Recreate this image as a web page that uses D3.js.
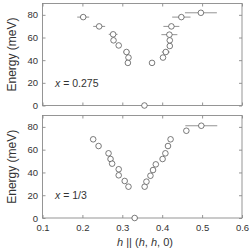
<!DOCTYPE html>
<html lang="en">
<head>
<meta charset="utf-8">
<title>dispersion</title>
<script src="https://cdn.jsdelivr.net/npm/d3@7"></script>
<style>
body { margin: 0; background: #fff; }
svg { display: block; font-family: "Liberation Sans", Arial, sans-serif; }
</style>
</head>
<body>
<script>
// x = 0.275 panel
var topH   = [0.202, 0.242, 0.277, 0.278, 0.291, 0.3105, 0.3155, 0.314, 0.3555, 0.3745, 0.402, 0.409, 0.419, 0.419, 0.418, 0.423, 0.448, 0.497];
var topE   = [78, 69.8, 62.8, 57.5, 53, 47.2, 42.3, 37.6, 0, 37.6, 42.3, 47.2, 52.5, 57.5, 62.5, 69.8, 78, 81.8];
var topErr = [0.015, 0.015, 0.011, 0.004, 0.006, 0.008, 0, 0, 0, 0, 0, 0.01, 0.005, 0.005, 0.02, 0.02, 0.023, 0.04];
// x = 1/3 panel
var botH   = [0.227, 0.2405, 0.2655, 0.2705, 0.2745, 0.291, 0.291, 0.306, 0.3155, 0.331, 0.356, 0.3605, 0.3705, 0.377, 0.384, 0.401, 0.408, 0.4145, 0.421, 0.4605, 0.498];
var botE   = [69.1, 63.2, 56.8, 51.8, 47.7, 42.8, 37.5, 32.5, 27.5, 0, 27.5, 31.9, 37.1, 42.1, 47.1, 51.8, 56.8, 63.2, 69.1, 76.6, 81];
var botErr = [0, 0, 0, 0, 0, 0, 0, 0, 0, 0, 0, 0, 0, 0, 0, 0, 0, 0, 0, 0, 0.04];

var xTicks = [0.1, 0.2, 0.3, 0.4, 0.5, 0.6];
var yTicks = [0, 20, 40, 60, 80];
var panelLabels = ["0.275", "1/3"];

var width = 249, height = 250;
var left = 42.5, right = 242;

var svg = d3.select("body").append("svg")
    .attr("width", width)
    .attr("height", height);

var x = d3.scaleLinear().domain([0.1, 0.6]).range([left, right]);

var panels = [
  { h: topH, e: topE, err: topErr, top: 3.5, bottom: 105.5, label: panelLabels[0], xlabels: false },
  { h: botH, e: botE, err: botErr, top: 115.5, bottom: 218, label: panelLabels[1], xlabels: true }
];

panels.forEach(function(p) {
  var y = d3.scaleLinear().domain([0, 90]).range([p.bottom, p.top]);
  var g = svg.append("g");
  var axisColor = "#8a8a8a";

  // frame
  g.append("rect")
    .attr("x", left).attr("y", p.top)
    .attr("width", right - left).attr("height", p.bottom - p.top)
    .attr("fill", "none").attr("stroke", axisColor).attr("stroke-width", 0.9);

  // ticks on all four sides, pointing in
  var yl = g.append("g").attr("transform", "translate(" + left + ",0)")
    .call(d3.axisLeft(y).tickValues(yTicks).tickSize(-3).tickPadding(4.5));
  var yr = g.append("g").attr("transform", "translate(" + right + ",0)")
    .call(d3.axisRight(y).tickValues(yTicks).tickSize(-3).tickFormat(""));
  var xb = g.append("g").attr("transform", "translate(0," + p.bottom + ")")
    .call(d3.axisBottom(x).tickValues(xTicks).tickSize(-3).tickPadding(6)
      .tickFormat(p.xlabels ? d3.format(".1f") : ""));
  var xt = g.append("g").attr("transform", "translate(0," + p.top + ")")
    .call(d3.axisTop(x).tickValues(xTicks).tickSize(-3).tickFormat(""));

  [yl, yr, xb, xt].forEach(function(a) {
    a.select(".domain").remove();
    a.selectAll("line").attr("stroke", axisColor).attr("stroke-width", 0.9);
    a.selectAll("text").attr("fill", "#333").style("font-size", "9.5px")
      .style("font-family", "Liberation Sans, Arial, sans-serif");
  });

  // y label
  g.append("text")
    .attr("transform", "translate(16," + ((p.top + p.bottom) / 2) + ") rotate(-90)")
    .attr("text-anchor", "middle")
    .attr("fill", "#333")
    .style("font-size", "12px")
    .text("Energy (meV)");

  // panel label
  var lab = g.append("text")
    .attr("x", 55).attr("y", y(20) + 4)
    .attr("fill", "#333")
    .style("font-size", "10.5px");
  lab.append("tspan").style("font-style", "italic").text("x");
  lab.append("tspan").text(" = " + p.label);

  var idx = d3.range(p.h.length);

  // error bars
  g.selectAll(".err").data(idx.filter(function(i) { return p.err[i] > 0; }))
    .enter().append("line")
    .attr("x1", function(i) { return x(p.h[i] - p.err[i]); })
    .attr("x2", function(i) { return x(p.h[i] + p.err[i]); })
    .attr("y1", function(i) { return y(p.e[i]); })
    .attr("y2", function(i) { return y(p.e[i]); })
    .attr("stroke", "#777").attr("stroke-width", 0.8);

  // points
  g.selectAll(".pt").data(idx)
    .enter().append("circle")
    .attr("cx", function(i) { return x(p.h[i]); })
    .attr("cy", function(i) { return y(p.e[i]); })
    .attr("r", 2.8)
    .attr("fill", "#fff")
    .attr("stroke", "#444")
    .attr("stroke-width", 0.7);
});

// x axis title
var xt = svg.append("text")
  .attr("x", 145).attr("y", 246)
  .attr("text-anchor", "middle")
  .attr("fill", "#333")
  .style("font-size", "11px");
xt.append("tspan").style("font-style", "italic").text("h");
xt.append("tspan").text(" || (");
xt.append("tspan").style("font-style", "italic").text("h");
xt.append("tspan").text(", ");
xt.append("tspan").style("font-style", "italic").text("h");
xt.append("tspan").text(", 0)");
</script>
</body>
</html>
